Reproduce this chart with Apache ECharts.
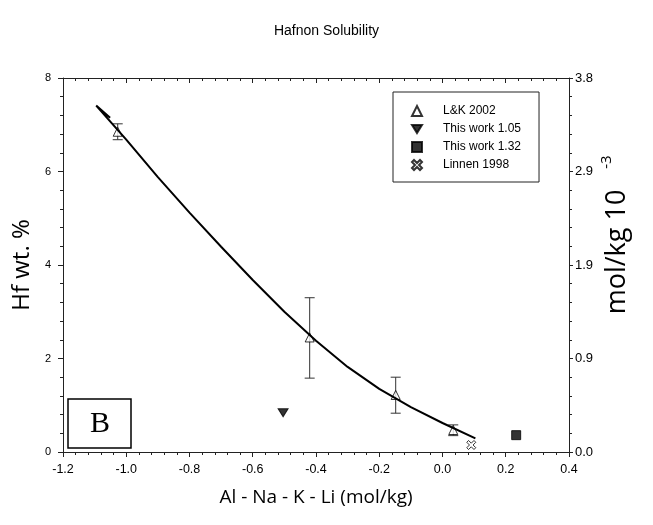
<!DOCTYPE html>
<html>
<head>
<meta charset="utf-8">
<script src="https://cdn.jsdelivr.net/npm/echarts@6/dist/echarts.min.js"></script>
<style>html,body{margin:0;padding:0;background:#fff}#c{width:653px;height:525px}</style>
</head>
<body>
<div id="c"></div>
<script>
const xTickLabels = ['-1.2','-1.0','-0.8','-0.6','-0.4','-0.2','0.0','0.2','0.4'];
const yLeftTickLabels = ['0','2','4','6','8'];
const yRightTickLabels = ['0.0','0.9','1.9','2.9','3.8'];

const lk2002 = [[-1.027,6.85],[-0.42,2.45],[-0.148,1.22],[0.034,0.47]];
const lk2002Err = [[-1.027,6.68,7.02],[-0.42,1.58,3.30],[-0.148,0.83,1.60],[0.034,0.35,0.58]];
const thisWork105 = [[-0.504,0.84]];
const thisWork132 = [[0.233,0.36]];
const linnen1998 = [[0.091,0.15]];
const fitCurve = [[-1.051,7.15],[-1.095,7.41],[-1.0,6.68],[-0.9,5.88],[-0.8,5.12],[-0.7,4.39],[-0.6,3.68],[-0.5,3.00],[-0.4,2.38],[-0.3,1.82],[-0.2,1.35],[-0.1,0.96],[0.0,0.62],[0.104,0.29]];

const FONT = 'Liberation Sans';
const AX = '#222';
const chart = echarts.init(document.getElementById('c'));
const crossPath = 'path://M2,0 L5,3 L8,0 L10,2 L7,5 L10,8 L8,10 L5,7 L2,10 L0,8 L3,5 L0,2 Z';
const downTri = 'path://M0,0 L10,0 L5,8 Z';

chart.setOption({
  animation: false,
  backgroundColor: '#fff',
  title: {text: 'Hafnon Solubility', left: 'center', top: 19,
    textStyle: {fontFamily: FONT, fontSize: 14, fontWeight: 'normal', color: '#000'}},
  grid: {left: 63, right: 84, top: 78, bottom: 73},
  legend: {
    orient: 'vertical', left: 393, top: 92, padding: [13, 18, 11, 18],
    itemWidth: 10, itemHeight: 10, itemGap: 6, selectedMode: false,
    borderColor: AX, borderWidth: 1,
    textStyle: {fontFamily: FONT, fontSize: 12, color: '#000', padding: [0, 0, 0, 16]},
    data: ['L&K 2002', 'This work 1.05', 'This work 1.32', 'Linnen 1998']
  },
  xAxis: [{
    type: 'value', min: -1.2, max: 0.4, interval: 0.2, position: 'bottom',
    name: 'Al - Na - K - Li (mol/kg)', nameLocation: 'middle', nameGap: 36,
    nameTextStyle: {fontFamily: 'Open Sans', fontSize: 19, color: '#000'},
    axisLine: {onZero: false, lineStyle: {color: AX, width: 1}},
    axisTick: {inside: false, length: 5, lineStyle: {color: AX}},
    minorTick: {show: true, splitNumber: 5, length: 3, lineStyle: {color: AX}},
    splitLine: {show: false},
    axisLabel: {margin: 11, fontFamily: FONT, fontSize: 12.5, color: '#000',
      formatter: (v, i) => xTickLabels[i]}
  }, {
    type: 'value', min: -1.2, max: 0.4, interval: 0.2, position: 'top',
    axisLine: {onZero: false, lineStyle: {color: AX, width: 1}},
    axisTick: {inside: true, length: 5, lineStyle: {color: AX}},
    minorTick: {show: true, splitNumber: 5, length: 3, lineStyle: {color: AX}},
    splitLine: {show: false}, axisLabel: {show: false}
  }],
  yAxis: [{
    type: 'value', min: 0, max: 8, interval: 2, position: 'left',
    name: 'Hf wt. %', nameLocation: 'middle', nameGap: 24,
    nameTextStyle: {fontFamily: 'Open Sans', fontSize: 24, color: '#000'},
    axisLine: {show: true, onZero: false, lineStyle: {color: AX, width: 1}},
    axisTick: {show: true, inside: false, length: 5, lineStyle: {color: AX}},
    minorTick: {show: true, splitNumber: 5, length: 3, lineStyle: {color: AX}},
    splitLine: {show: false},
    axisLabel: {margin: 12, fontFamily: FONT, fontSize: 11, color: '#000',
      formatter: (v, i) => yLeftTickLabels[i]}
  }, {
    type: 'value', min: 0, max: 8, interval: 2, position: 'right',
    axisLine: {show: true, onZero: false, lineStyle: {color: AX, width: 1}},
    axisTick: {show: true, inside: false, length: 4, lineStyle: {color: AX}},
    minorTick: {show: true, splitNumber: 5, length: 3, lineStyle: {color: AX}},
    splitLine: {show: false},
    axisLabel: {margin: 6, fontFamily: FONT, fontSize: 13, color: '#000',
      formatter: (v, i) => yRightTickLabels[i]}
  }],
  graphic: [
    {type: 'text', x: 617, y: 252, rotation: Math.PI / 2,
      style: {text: 'mol/kg 10', font: '27px "Open Sans"', fill: '#000', align: 'center', verticalAlign: 'middle'}},
    {type: 'text', x: 607, y: 162, rotation: Math.PI / 2,
      style: {text: '-3', font: '15px "Open Sans"', fill: '#000', align: 'center', verticalAlign: 'middle'}},
    {type: 'rect', shape: {x: 68, y: 399, width: 63, height: 49},
      style: {fill: '#fff', stroke: '#000', lineWidth: 1.5}, z: 10},
    {type: 'text', x: 100, y: 424, z: 11,
      style: {text: 'B', font: '30px "Liberation Serif"', fill: '#000', align: 'center', verticalAlign: 'middle'}}
  ],
  series: [
    {
      type: 'custom', name: 'err', data: lk2002Err, z: 2, silent: true,
      renderItem: (params, api) => {
        const x = api.value(0);
        const lo = api.coord([x, api.value(1)]);
        const hi = api.coord([x, api.value(2)]);
        const w = 5;
        const st = {stroke: '#333', lineWidth: 1};
        return {type: 'group', children: [
          {type: 'line', shape: {x1: lo[0], y1: lo[1], x2: hi[0], y2: hi[1]}, style: st},
          {type: 'line', shape: {x1: lo[0] - w, y1: lo[1], x2: lo[0] + w, y2: lo[1]}, style: st},
          {type: 'line', shape: {x1: hi[0] - w, y1: hi[1], x2: hi[0] + w, y2: hi[1]}, style: st}
        ]};
      }
    },
    {type: 'line', name: 'fit', data: fitCurve, showSymbol: false, symbol: 'none', z: 4,
      lineStyle: {color: '#000', width: 2}, smooth: false},
    {type: 'scatter', name: 'L&K 2002', data: lk2002, symbol: 'triangle', symbolSize: 9, z: 3,
      itemStyle: {color: '#fff', borderColor: '#000', borderWidth: 1}},
    {type: 'scatter', name: 'This work 1.05', data: thisWork105, symbol: downTri, symbolSize: [10, 8], z: 3,
      itemStyle: {color: '#000', borderColor: '#000', borderWidth: 1}},
    {type: 'scatter', name: 'This work 1.32', data: thisWork132, symbol: 'rect', symbolSize: 9, z: 3,
      itemStyle: {color: '#000', borderColor: '#000', borderWidth: 1}},
    {type: 'scatter', name: 'Linnen 1998', data: linnen1998, symbol: crossPath, symbolSize: 9, z: 3,
      itemStyle: {color: '#fff', borderColor: '#000', borderWidth: 1}}
  ]
});
</script>
</body>
</html>
